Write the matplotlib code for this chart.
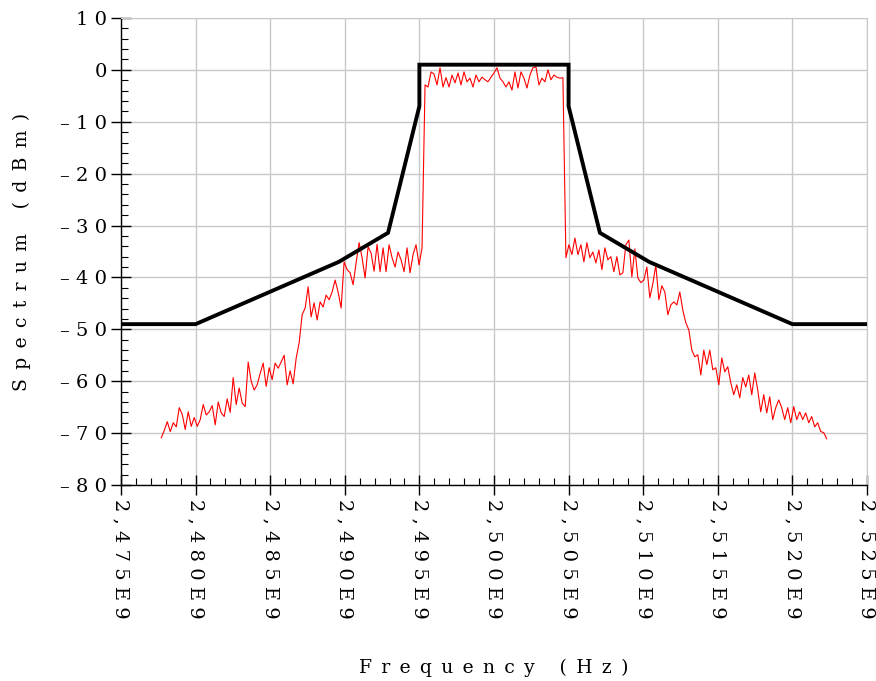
import numpy as np
import matplotlib
matplotlib.use('Agg')
import matplotlib.pyplot as plt
from matplotlib.ticker import FixedLocator, MultipleLocator

# Measured spectrum (dBm), evenly sampled between these two frequencies (MHz)
spec_start_mhz = 2477.7
spec_stop_mhz = 2522.3
spec_dbm = [
    -70.9, -69.5, -67.8, -69.7, -68.0, -68.8, -65.1, -66.4, -69.3, -65.9,
    -68.7, -67.0, -68.7, -67.4, -64.5, -66.5, -65.9, -64.7, -68.4, -64.0,
    -66.1, -66.8, -63.4, -66.0, -59.3, -64.5, -61.3, -64.2, -64.9, -56.3,
    -60.0, -61.7, -60.7, -58.5, -56.5, -61.0, -57.4, -59.7, -56.5, -57.5,
    -56.3, -55.0, -60.7, -58.0, -60.5, -55.6, -52.6, -47.2, -45.9, -41.8,
    -47.6, -44.9, -48.2, -44.7, -45.7, -43.4, -44.3, -42.8, -40.5, -42.8,
    -45.9, -37.0, -38.5, -39.1, -41.4, -37.2, -33.3, -36.2, -40.1, -34.1,
    -35.3, -38.8, -33.6, -38.9, -34.3, -38.9, -33.7, -36.2, -38.0, -35.1,
    -36.6, -38.9, -34.3, -39.1, -35.6, -33.7, -37.6, -34.3, -2.9, -3.3,
    -0.4, -0.8, -2.9, 0.4, -3.3, -1.5, -3.3, -1.0, -2.5, -0.6,
    -2.9, -0.4, -2.3, -1.6, -3.3, -1.0, -2.3, -1.4, -1.9, -2.3,
    -1.4, -0.6, 0.4, -1.6, -2.3, -3.3, -2.3, -3.9, -0.4, -3.5,
    -0.4, -1.6, -3.5, -1.0, 0.4, 0.6, -2.9, -1.6, -2.3, 0.0,
    -1.9, -1.0, -1.4, -1.6, -1.5, -36.2, -33.7, -35.6, -32.4, -35.6,
    -33.7, -37.0, -33.3, -36.2, -35.1, -37.2, -34.7, -38.5, -34.3, -36.6,
    -36.0, -38.9, -36.0, -39.5, -39.1, -33.7, -32.8, -39.9, -34.5, -40.1,
    -41.0, -40.5, -38.0, -43.9, -41.2, -37.6, -44.3, -41.6, -42.8, -47.2,
    -45.3, -44.7, -45.3, -42.8, -46.3, -48.7, -50.1, -54.0, -55.3, -54.9,
    -58.8, -54.0, -56.8, -54.0, -57.8, -57.4, -60.7, -55.5, -58.2, -57.2,
    -60.3, -62.6, -60.7, -63.2, -59.3, -61.1, -58.8, -62.6, -58.4, -61.7,
    -65.9, -62.6, -66.1, -63.0, -67.4, -65.1, -63.6, -65.1, -67.4, -65.1,
    -68.0, -64.9, -67.4, -65.9, -67.4, -66.1, -68.0, -66.8, -68.8, -68.0,
    -69.7, -69.9, -71.1,
]

# Spectral mask corners
mask_mhz = [2475, 2480, 2489.6, 2492.9, 2495, 2495, 2505, 2505, 2507.1, 2510.4, 2520, 2525]
mask_dbm = [-49, -49, -37, -31.4, -7, 1, 1, -7, -31.4, -37, -49, -49]

xticks_hz = [2.475e9, 2.480e9, 2.485e9, 2.490e9, 2.495e9, 2.500e9,
             2.505e9, 2.510e9, 2.515e9, 2.520e9, 2.525e9]
yticks_db = [10, 0, -10, -20, -30, -40, -50, -60, -70, -80]

EN = '\u2002'


def spaced(text, sep=' '):
    return sep.join(text)


def x_label(v):
    return spaced(f'{v / 1e9:.3f}E9'.replace('.', ','))


def y_label(v):
    s = str(abs(int(v)))
    if v < 0:
        s = '\u2013' + s
    return spaced(s)


def main():
    plt.rcParams['font.family'] = ['DejaVu Serif']
    fig = plt.figure(figsize=(8.76, 6.81), dpi=100)
    ax = fig.add_axes([0.1381, 0.2878, 0.8516, 0.6858])

    freq_hz = np.linspace(spec_start_mhz, spec_stop_mhz, len(spec_dbm)) * 1e6
    ax.plot(freq_hz, spec_dbm, color='#ff0000', lw=0.8, zorder=3)
    ax.plot(np.array(mask_mhz) * 1e6, mask_dbm, color='black', lw=2.8,
            solid_joinstyle='miter', zorder=4)

    ax.set_xlim(2.475e9, 2.525e9)
    ax.set_ylim(-80, 10)

    ax.xaxis.set_major_locator(FixedLocator(xticks_hz))
    ax.xaxis.set_minor_locator(MultipleLocator(1e6))
    ax.yaxis.set_major_locator(FixedLocator(yticks_db))
    ax.yaxis.set_minor_locator(MultipleLocator(2))
    ax.set_xticklabels([x_label(v) for v in xticks_hz], rotation=270,
                       ha='center', va='top')
    ax.set_yticklabels([y_label(v) for v in yticks_db])

    ax.tick_params(which='major', direction='inout', length=14, width=1,
                   labelsize=14, colors='black')
    ax.tick_params(axis='x', which='major', pad=3)
    ax.tick_params(axis='y', which='major', pad=3)
    ax.tick_params(which='minor', direction='in', length=5, width=0.8)

    ax.grid(True, which='major', color='#c8c8c8', lw=1.0)
    ax.set_axisbelow(True)
    for side in ['top', 'right']:
        ax.spines[side].set_color('#c8c8c8')
    for side in ['left', 'bottom']:
        ax.spines[side].set_linewidth(1.0)

    fig.text(0.564, 0.019, spaced('Frequency (Hz)', EN), fontsize=13.5,
             ha='center', va='center')
    fig.text(0.025, 0.63, spaced('Spectrum (dBm)', EN), fontsize=13.5,
             ha='center', va='center', rotation=90)

    fig.savefig('out.png', dpi=100)


if __name__ == '__main__':
    main()
